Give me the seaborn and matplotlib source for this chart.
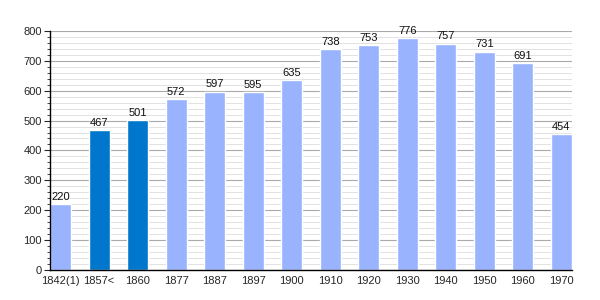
import matplotlib
matplotlib.use("Agg")
import matplotlib.pyplot as plt
import seaborn as sns
import pandas as pd
from matplotlib.ticker import MultipleLocator

years = ["1842(1)", "1857<", "1860", "1877", "1887", "1897", "1900", "1910",
         "1920", "1930", "1940", "1950", "1960", "1970"]
population = [220, 467, 501, 572, 597, 595, 635, 738, 753, 776, 757, 731, 691, 454]
highlight = [False, True, True, False, False, False, False, False, False, False,
             False, False, False, False]

LIGHT = "#99b3ff"
DARK = "#0077cc"

sns.set_style("white")
plt.rcParams["font.family"] = ["Liberation Sans", "DejaVu Sans"]

df = pd.DataFrame({"year": years, "pop": population})
colors = [DARK if h else LIGHT for h in highlight]

fig = plt.figure(figsize=(6, 3), dpi=100)
ax = fig.add_axes([0.0833, 0.1, 0.87, 0.797])
ax.set_axisbelow(True)
width = 0.55
sns.barplot(data=df, x="year", y="pop", hue="year", palette=colors,
            legend=False, width=width, saturation=1, ax=ax)

ax.set_ylim(0, 800)
ax.set_xlim(-width / 2, len(years) - 1 + width / 2)
ax.yaxis.set_major_locator(MultipleLocator(100))
ax.yaxis.set_minor_locator(MultipleLocator(20))
ax.grid(axis="y", which="major", color="#aaaaaa", linewidth=0.8)
ax.grid(axis="y", which="minor", color="#dddddd", linewidth=0.6)
ax.grid(axis="x", visible=False)

for i, v in enumerate(population):
    ax.text(i, v + 8, str(v), ha="center", va="bottom", fontsize=8, color="#111111")

ax.set_xlabel("")
ax.set_ylabel("")
for s in ["top", "right"]:
    ax.spines[s].set_visible(False)
ax.spines["left"].set_color("black")
ax.spines["bottom"].set_color("black")
ax.spines["left"].set_linewidth(1)
ax.spines["bottom"].set_linewidth(1)
ax.tick_params(axis="y", which="major", left=True, length=4, width=0.8, labelsize=8, pad=2)
ax.tick_params(axis="y", which="minor", left=True, length=2, width=0.6)
ax.tick_params(axis="x", bottom=False, labelsize=8, pad=1)

fig.savefig("out.png", dpi=100)
